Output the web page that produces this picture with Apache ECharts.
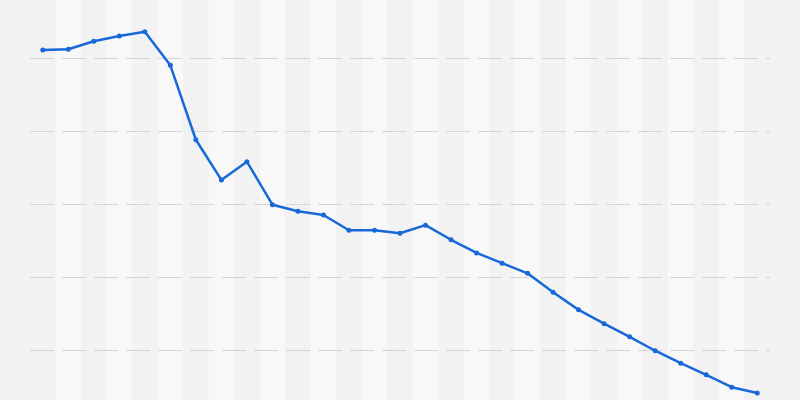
<!DOCTYPE html>
<html>
<head>
<meta charset="utf-8">
<script src="https://cdn.jsdelivr.net/npm/echarts@6/dist/echarts.min.js"></script>
<style>
html,body{margin:0;padding:0;background:#f2f2f2;}
#c{width:800px;height:400px;}
</style>
</head>
<body>
<div id="c"></div>
<script>
const categories = ['1','2','3','4','5','6','7','8','9','10','11','12','13','14','15','16','17','18','19','20','21','22','23','24','25','26','27','28','29'];
const values = [51.1,51.2,52.3,53.0,53.6,49.0,38.8,33.3,35.8,29.9,29.0,28.5,26.4,26.4,26.0,27.1,25.1,23.3,21.9,20.5,17.9,15.5,13.6,11.8,9.9,8.2,6.6,4.9,4.1];
const yMin = 10, yMax = 50, yStep = 10;

const chart = echarts.init(document.getElementById('c'), null, {renderer:'canvas'});
const hidden = {axisLine: {show: false}, axisTick: {show: false}, axisLabel: {show: false}};
chart.setOption({
  backgroundColor: '#f2f2f2',
  animation: false,
  grid: [
    {left: 30, right: 30, top: 0, bottom: 0, containLabel: false},
    {left: 30, right: 30, top: 58, bottom: 50, containLabel: false}
  ],
  xAxis: [
    Object.assign({
      type: 'category', gridIndex: 0, data: categories, boundaryGap: true, z: 0,
      splitLine: {show: false},
      splitArea: {show: true, areaStyle: {color: ['#f2f2f2', '#f8f8f8']}}
    }, hidden),
    Object.assign({
      type: 'category', gridIndex: 1, data: categories, boundaryGap: true,
      splitLine: {show: false}, splitArea: {show: false}
    }, hidden)
  ],
  yAxis: [
    Object.assign({
      type: 'value', gridIndex: 0, min: 0, max: 1, z: 0,
      splitLine: {show: false}, splitArea: {show: false}
    }, hidden),
    Object.assign({
      type: 'value', gridIndex: 1, min: yMin, max: yMax, interval: yStep, z: 2,
      splitLine: {show: true, lineStyle: {color: '#d4d4d4', width: 1, type: [24, 8]}}
    }, hidden)
  ],
  series: [{
    type: 'line',
    xAxisIndex: 1, yAxisIndex: 1,
    data: values,
    symbol: 'circle',
    symbolSize: 5,
    clip: false,
    z: 5,
    lineStyle: {color: '#1769d9', width: 2.5},
    itemStyle: {color: '#1769d9'}
  }]
});
</script>
</body>
</html>
